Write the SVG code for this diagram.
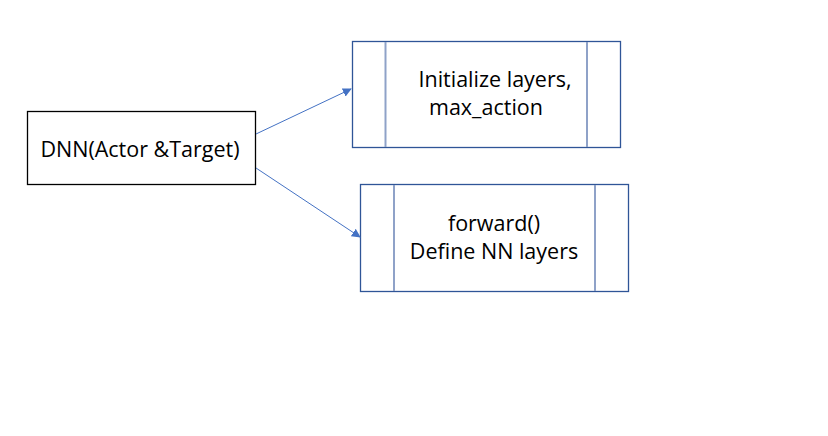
<svg xmlns="http://www.w3.org/2000/svg" width="828" height="436" viewBox="0 0 828 436">
<style>
.t{font-family:"Open Sans","Liberation Sans",sans-serif;font-size:21.5px;fill:#000}
.proc{fill:#fff;stroke:#2F5597;stroke-width:1.3}
.bar{stroke:#8FA2C8;stroke-width:2}
.c{stroke:#4472C4;stroke-width:1;fill:none}
</style>
<defs>
<marker id="ah" viewBox="0 0 10 10" refX="9" refY="5" markerWidth="9" markerHeight="9" markerUnits="userSpaceOnUse" orient="auto">
<path d="M0,0 L10,5 L0,10 z" fill="#4472C4"/>
</marker>
</defs>
<rect width="828" height="436" fill="#fff"/>
<g id="dnn">
<rect x="27.5" y="111.5" width="228" height="73" fill="#fff" stroke="#000" stroke-width="1.3"/>
<text class="t" x="140" y="157" text-anchor="middle">DNN(Actor &amp;Target)</text>
</g>
<g id="init">
<rect class="proc" x="352.5" y="41.5" width="268" height="106"/>
<line class="bar" x1="385.5" y1="42" x2="385.5" y2="147"/>
<line class="bar" x1="587" y1="42" x2="587" y2="147"/>
<text class="t" x="495" y="87" text-anchor="middle">Initialize layers,</text>
<text class="t" x="486" y="115" text-anchor="middle">max_action</text>
</g>
<g id="forward">
<rect class="proc" x="360.5" y="184.5" width="268" height="107"/>
<line class="bar" x1="394" y1="185" x2="394" y2="291"/>
<line class="bar" x1="595" y1="185" x2="595" y2="291"/>
<text class="t" x="494" y="231" text-anchor="middle">forward()</text>
<text class="t" x="494" y="259" text-anchor="middle">Define NN layers</text>
</g>
<g id="connectors">
<line class="c" x1="256" y1="134" x2="351" y2="89" marker-end="url(#ah)"/>
<line class="c" x1="256" y1="168" x2="360" y2="237" marker-end="url(#ah)"/>
</g>
</svg>
